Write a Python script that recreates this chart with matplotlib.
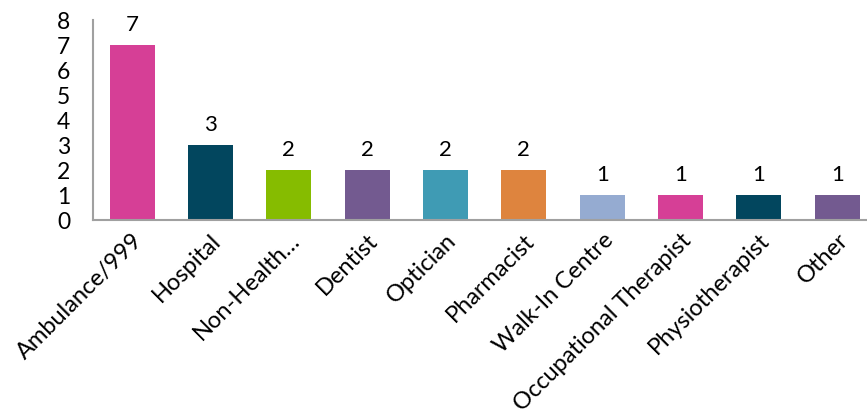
import matplotlib
matplotlib.use("Agg")
import matplotlib.pyplot as plt

categories = ["Ambulance/999", "Hospital", "Non-Health…", "Dentist", "Optician",
              "Pharmacist", "Walk-In Centre", "Occupational Therapist",
              "Physiotherapist", "Other"]
counts = [7, 3, 2, 2, 2, 2, 1, 1, 1, 1]
colors = ["#D63F96", "#02465E", "#86BC00", "#735A90", "#3F9BB4",
          "#DE843E", "#95ABD1", "#D63F96", "#02465E", "#735A90"]

plt.rcParams['font.family'] = ['Lato', 'DejaVu Sans']

fig = plt.figure(figsize=(8.67, 4.19), dpi=100)
ax = fig.add_axes([93/867, 1 - 220/419, (867 - 93)/867, 200/419])

x = range(len(categories))
bars = ax.bar(x, counts, width=0.575, color=colors)
for xi, v in zip(x, counts):
    ax.text(xi, v + 0.42, str(v), ha='center', va='bottom', fontsize=16)

ax.set_ylim(0, 8)
ax.set_xlim(-0.5, 9.38)
ax.set_yticks(range(0, 9))
ax.set_xticks(list(x))
ax.set_xticklabels(categories, rotation=45, ha='right', rotation_mode='anchor', fontsize=17)
ax.tick_params(axis='both', length=0)
ax.tick_params(axis='y', pad=26, labelsize=16.5)
ax.tick_params(axis='x', pad=7)
for lab in ax.get_yticklabels():
    lab.set_horizontalalignment('left')

for s in ['top', 'right']:
    ax.spines[s].set_visible(False)
for s in ['left', 'bottom']:
    ax.spines[s].set_color('#A0A0A0')
    ax.spines[s].set_linewidth(1.5)

fig.savefig("out.png", dpi=100)
